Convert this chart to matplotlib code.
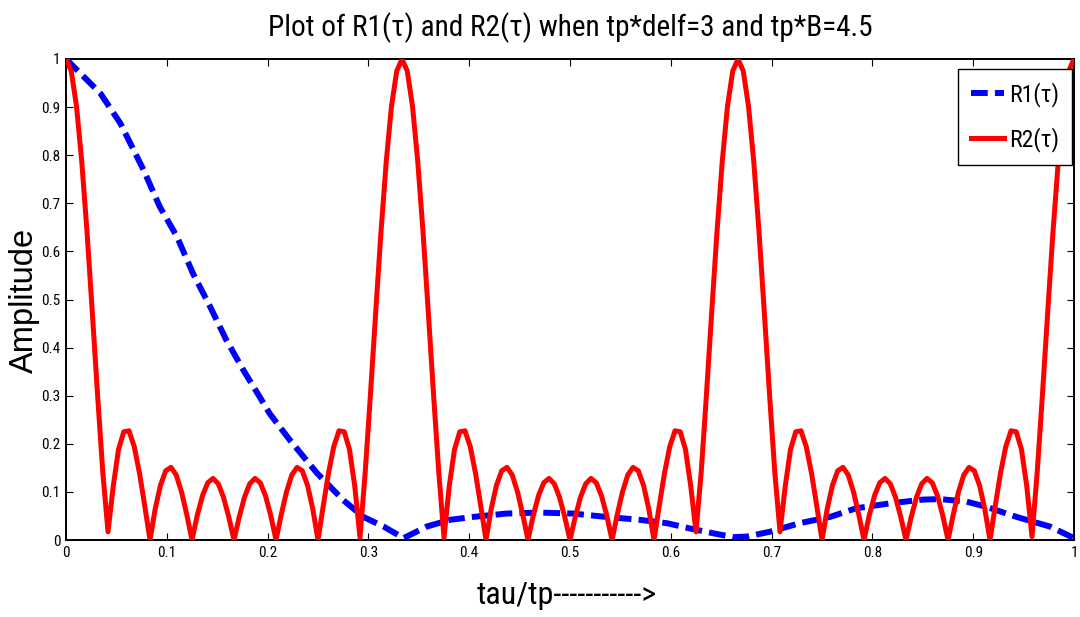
import matplotlib
matplotlib.use("Agg")
import matplotlib.pyplot as plt
from matplotlib import font_manager

# ---------------- data ----------------
r1_x = [0.000, 0.034, 0.054, 0.077, 0.093, 0.110, 0.126, 0.143, 0.159, 0.176,
        0.192, 0.202, 0.222, 0.249, 0.275, 0.295, 0.315, 0.335, 0.358, 0.381,
        0.404, 0.437, 0.470, 0.503, 0.536, 0.569, 0.596, 0.619, 0.642, 0.662,
        0.675, 0.698, 0.728, 0.758, 0.784, 0.817, 0.850, 0.867, 0.893, 0.913,
        0.943, 0.976, 1.000]
r1_y = [1.000, 0.929, 0.866, 0.769, 0.693, 0.631, 0.554, 0.485, 0.416, 0.353,
        0.298, 0.263, 0.208, 0.139, 0.083, 0.048, 0.028, 0.004, 0.028, 0.042,
        0.048, 0.055, 0.057, 0.055, 0.048, 0.042, 0.035, 0.024, 0.014, 0.006,
        0.007, 0.017, 0.035, 0.048, 0.066, 0.076, 0.084, 0.085, 0.080, 0.069,
        0.048, 0.028, 0.004]

# R2 sampled on 193 points between 0 and 1 (index k -> tau/tp = k/192)
r2_n = 193
r2_y = [
    # 0 .. 1/3
    1.000, 0.975, 0.902, 0.787, 0.641, 0.475, 0.304, 0.142, 0.017, 0.112,
    0.188, 0.225, 0.227, 0.194, 0.139, 0.071, 0.000, 0.065, 0.114, 0.144,
    0.151, 0.135, 0.100, 0.053, 0.000, 0.051, 0.092, 0.119, 0.128, 0.117,
    0.089, 0.048, 0.000, 0.048, 0.089, 0.117, 0.128, 0.119, 0.092, 0.051,
    0.000, 0.053, 0.100, 0.135, 0.151, 0.144, 0.114, 0.065, 0.000, 0.071,
    0.139, 0.194, 0.227, 0.225, 0.188, 0.112, 0.005, 0.142, 0.304, 0.475,
    0.641, 0.787, 0.902, 0.975,
    # 1/3 .. 2/3
    1.000, 0.975, 0.902, 0.787, 0.641, 0.475, 0.304, 0.142, 0.005, 0.112,
    0.188, 0.225, 0.227, 0.194, 0.139, 0.071, 0.000, 0.065, 0.114, 0.144,
    0.151, 0.135, 0.100, 0.053, 0.000, 0.051, 0.092, 0.119, 0.128, 0.117,
    0.089, 0.048, 0.000, 0.048, 0.089, 0.117, 0.128, 0.119, 0.092, 0.051,
    0.000, 0.053, 0.100, 0.135, 0.151, 0.144, 0.114, 0.065, 0.000, 0.071,
    0.139, 0.194, 0.227, 0.225, 0.188, 0.112, 0.017, 0.142, 0.304, 0.475,
    0.641, 0.787, 0.902, 0.975,
    # 2/3 .. 1
    1.000, 0.975, 0.902, 0.787, 0.641, 0.475, 0.304, 0.142, 0.017, 0.112,
    0.188, 0.225, 0.227, 0.194, 0.139, 0.071, 0.000, 0.065, 0.114, 0.144,
    0.151, 0.135, 0.100, 0.053, 0.000, 0.051, 0.092, 0.119, 0.128, 0.117,
    0.089, 0.048, 0.000, 0.048, 0.089, 0.117, 0.128, 0.119, 0.092, 0.051,
    0.000, 0.053, 0.100, 0.135, 0.151, 0.144, 0.114, 0.065, 0.000, 0.071,
    0.139, 0.194, 0.227, 0.225, 0.188, 0.112, 0.007, 0.142, 0.304, 0.475,
    0.641, 0.787, 0.902, 0.975,
    1.000,
]
r2_x = [k / (r2_n - 1) for k in range(r2_n)]

tick_vals = [0, 0.1, 0.2, 0.3, 0.4, 0.5, 0.6, 0.7, 0.8, 0.9, 1]
tick_labels = ["0", "0.1", "0.2", "0.3", "0.4", "0.5", "0.6", "0.7", "0.8", "0.9", "1"]

title_text = "Plot of R1(\u03c4) and R2(\u03c4) when tp*delf=3 and tp*B=4.5"
xlabel_text = "tau/tp----------->"
ylabel_text = "Amplitude"
legend_labels = ["R1(\u03c4)", "R2(\u03c4)"]

# ---------------- fonts ----------------
available = {f.name for f in font_manager.fontManager.ttflist}
narrow = "Liberation Sans"
for cand in ["Roboto Condensed", "Liberation Sans Narrow", "Arial Narrow",
             "Open Sans Condensed"]:
    if cand in available:
        narrow = cand
        break
is_narrow = narrow != "Liberation Sans"
regular = "Liberation Sans"
plt.rcParams["font.family"] = [narrow, "DejaVu Sans"]

# ---------------- figure ----------------
W, H = 1080, 617
fig = plt.figure(figsize=(W / 100, H / 100), dpi=100)
ax = fig.add_axes([66 / W, 1 - 540 / H, 1008 / W, 481 / H])

ax.plot(r1_x, r1_y, color="#0000ff", lw=4.3, ls=(0, (2.8, 1.2)),
        dash_capstyle="butt", label=legend_labels[0], zorder=3)
ax.plot(r2_x, r2_y, color="#ff0000", lw=3.6, solid_joinstyle="round",
        label=legend_labels[1], zorder=4)

ax.set_xlim(0, 1)
ax.set_ylim(0, 1)
ax.set_xticks(tick_vals)
ax.set_xticklabels(tick_labels)
ax.set_yticks(tick_vals)
ax.set_yticklabels(tick_labels)
tick_fs = 11 if is_narrow else 10
ax.tick_params(direction="in", top=True, right=True, length=5, width=0.8,
               labelsize=tick_fs, pad=4, colors="black")
for s in ax.spines.values():
    s.set_linewidth(1.4)
    s.set_color("black")

scale = 1.0 if is_narrow else 0.85
fig.text(570 / W, 1 - 28 / H, title_text, ha="center", va="center",
         fontsize=21.1 * scale, family=[narrow, "DejaVu Sans"])
fig.text(567 / W, 1 - 596 / H, xlabel_text, ha="center", va="center",
         fontsize=23 * scale, family=[narrow, "DejaVu Sans"])
fig.text(24 / W, 1 - 300 / H, ylabel_text, ha="center", va="center",
         rotation=90, fontsize=23.5, family=[regular, "DejaVu Sans"])

leg = ax.legend(loc="upper right", bbox_to_anchor=(0.998, 0.979),
                borderaxespad=0, fancybox=False, framealpha=1,
                edgecolor="black", fontsize=17 * scale, handlelength=1.4,
                handletextpad=0.2, borderpad=0.55, labelspacing=0.85)
leg.get_frame().set_linewidth(1.0)

fig.savefig("out.png", dpi=100, facecolor="white")
